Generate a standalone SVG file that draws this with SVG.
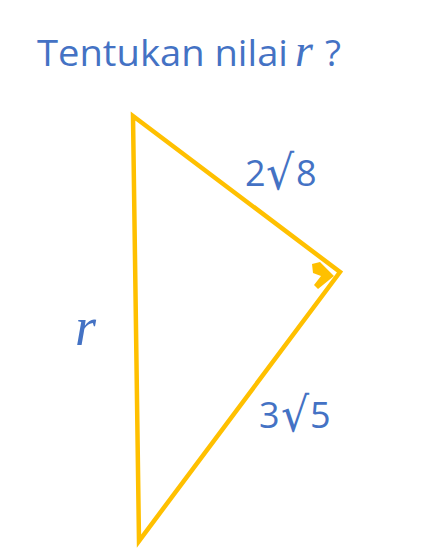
<svg xmlns="http://www.w3.org/2000/svg" width="429" height="552" viewBox="0 0 429 552">
<style>
.t{font-family:"Open Sans","Liberation Sans",sans-serif;fill:#4472C4}
.m{font-family:"Liberation Serif","DejaVu Serif",serif;font-style:italic;fill:#4472C4}
.s{font-family:"DejaVu Sans",sans-serif;fill:#4472C4;font-size:34px}
</style>
<rect width="429" height="552" fill="#fff"/>
<g id="title">
<text class="t" x="37" y="66" font-size="36" textLength="251" lengthAdjust="spacingAndGlyphs">Tentukan nilai</text>
<text class="m" x="295" y="66" font-size="46">r</text>
<text class="t" x="325" y="66" font-size="37">?</text>
</g>
<g id="triangle">
<polygon points="133,116 340,272 139,541" fill="none" stroke="#FFC000" stroke-width="4.5" stroke-linejoin="miter"/>
<polygon points="312,264 320,262 334,276 318,289 314,285 321,276 313,273" fill="#FFC000"/>
</g>
<g id="label-2sqrt8">
<text class="t" x="245" y="186" font-size="36">2</text>
<text class="s" transform="translate(266,189) scale(1.3,1.4)">√</text>
<text class="t" x="296" y="186" font-size="36">8</text>
</g>
<g id="label-3sqrt5">
<text class="t" x="259" y="428" font-size="36">3</text>
<text class="s" transform="translate(281,431) scale(1.3,1.4)">√</text>
<text class="t" x="310" y="428" font-size="36">5</text>
</g>
<g id="label-r">
<text class="m" x="75" y="345" font-size="54">r</text>
</g>
</svg>
